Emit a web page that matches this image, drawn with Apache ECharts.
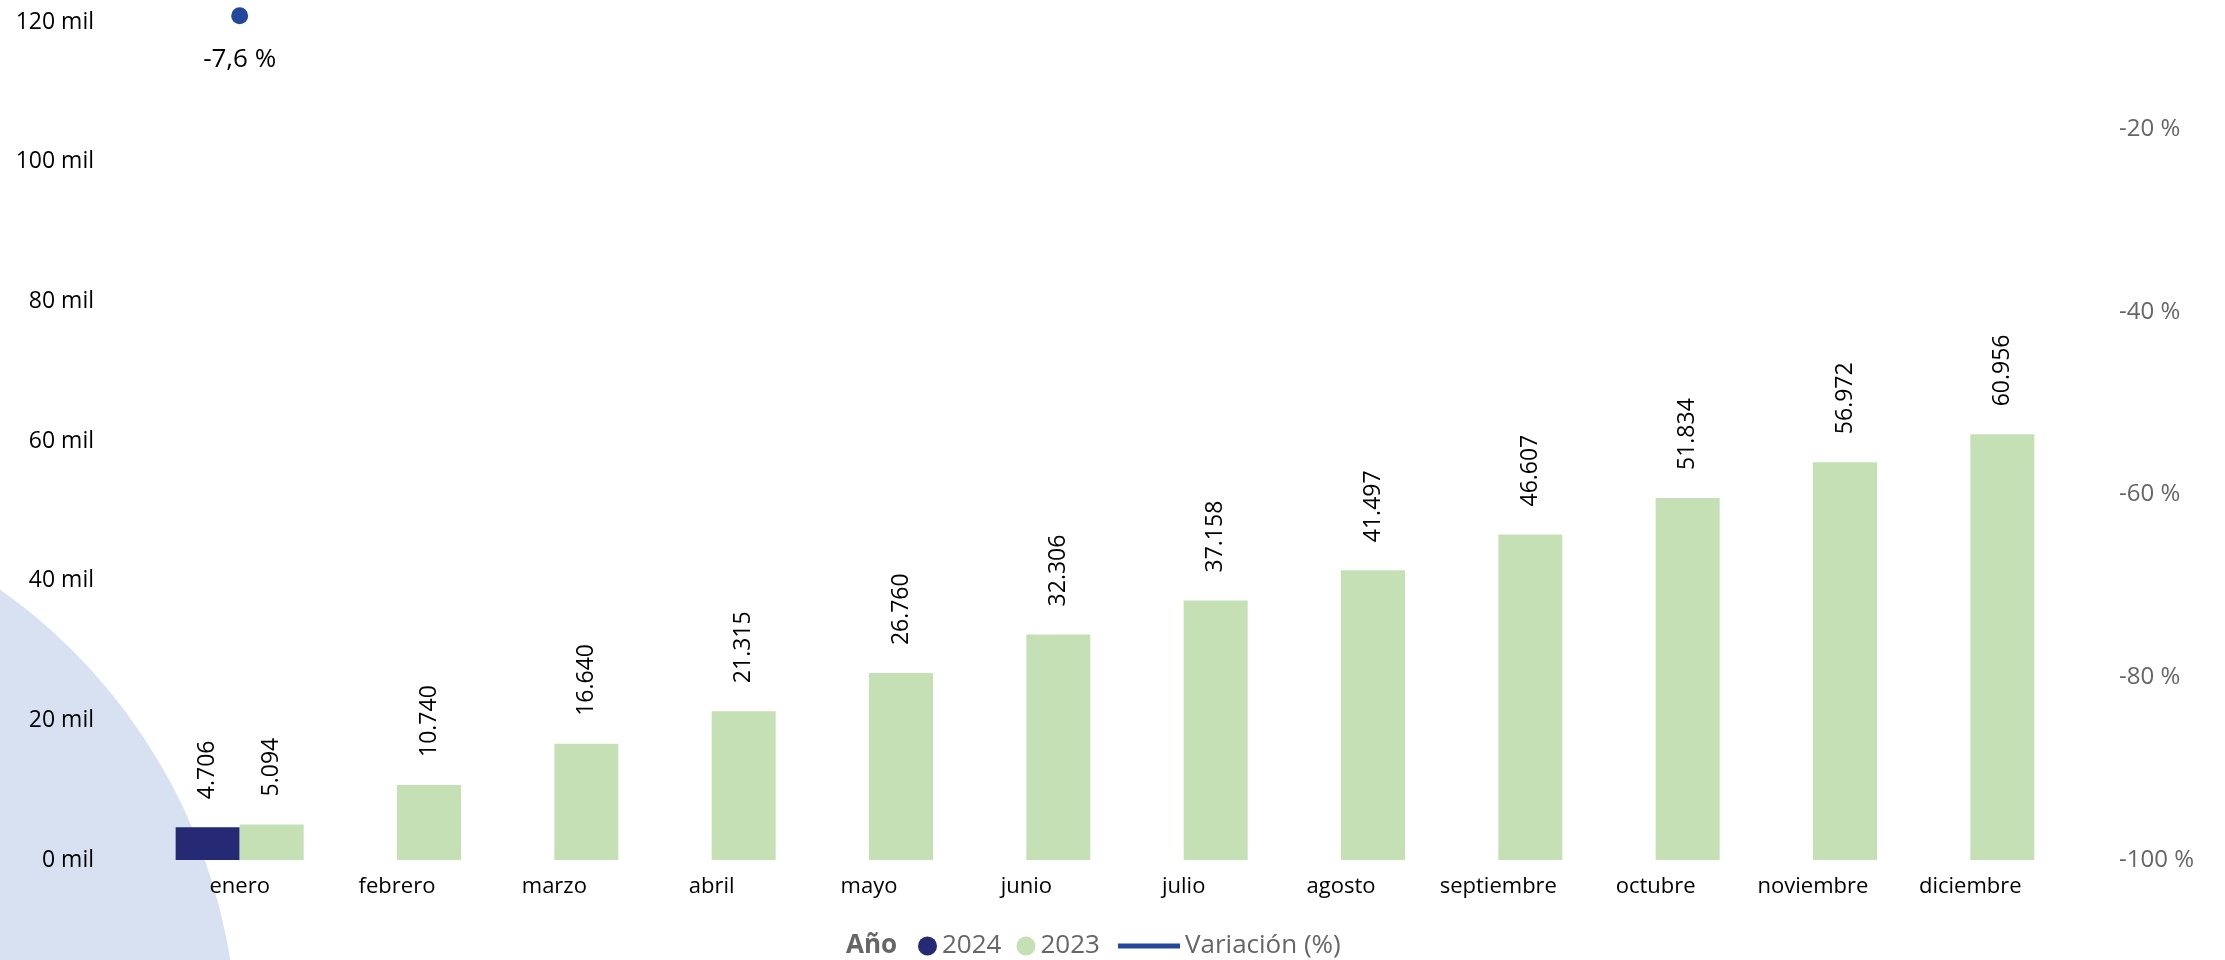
<!DOCTYPE html>
<html>
<head>
<meta charset="utf-8">
<script src="https://cdn.jsdelivr.net/npm/echarts@6/dist/echarts.min.js"></script>
<style>
  html, body { margin: 0; padding: 0; background: #fff; }
  #chart { width: 2225px; height: 960px; }
</style>
</head>
<body>
<div id="chart"></div>
<script>
const months = ['enero', 'febrero', 'marzo', 'abril', 'mayo', 'junio', 'julio', 'agosto', 'septiembre', 'octubre', 'noviembre', 'diciembre'];
const values2024 = [4706, null, null, null, null, null, null, null, null, null, null, null];
const values2023 = [5094, 10740, 16640, 21315, 26760, 32306, 37158, 41497, 46607, 51834, 56972, 60956];
const variacion = [-7.6, null, null, null, null, null, null, null, null, null, null, null];

const FONT = '"Open Sans", "Noto Sans", sans-serif';

const fmtThousands = v => String(v).replace(/\B(?=(\d{3})+(?!\d))/g, '.');

const chart = echarts.init(document.getElementById('chart'));

const barLabel = {
  show: true,
  position: 'top',
  rotate: 90,
  align: 'left',
  verticalAlign: 'middle',
  distance: 28,
  color: '#000',
  fontSize: 23,
  fontFamily: FONT,
  formatter: p => fmtThousands(p.value)
};

chart.setOption({
  animation: false,
  textStyle: { fontFamily: FONT },
  // decorative background shape
  graphic: [
    {
      type: 'circle',
      z: -10,
      silent: true,
      shape: { cx: -323, cy: 1047, r: 560 },
      style: { fill: '#d7e1f1' }
    }
  ],
  title: {
    text: 'Año',
    left: 841,
    top: 928,
    textStyle: { fontSize: 26, fontWeight: 'bold', color: '#666', fontFamily: FONT }
  },
  legend: [
    {
      data: [{ name: '2024', icon: 'circle' }, { name: '2023', icon: 'circle' }],
      left: 913,
      top: 928,
      itemWidth: 19,
      itemHeight: 19,
      itemGap: 15,
      textStyle: { fontSize: 26, color: '#666', fontFamily: FONT }
    },
    {
      data: [{ name: 'Variación (%)', icon: 'rect' }],
      left: 1113,
      top: 928,
      itemWidth: 62,
      itemHeight: 5,
      textStyle: { fontSize: 26, color: '#666', fontFamily: FONT }
    }
  ],
  grid: { left: 161, right: 176, top: 12, bottom: 100 },
  xAxis: {
    type: 'category',
    data: months,
    axisLine: { show: false },
    axisTick: { show: false },
    axisLabel: { color: '#000', fontSize: 22, margin: 16, fontFamily: FONT }
  },
  yAxis: [
    {
      type: 'value',
      min: 0,
      max: 121430,
      interval: 20000,
      splitLine: { show: false },
      axisLine: { show: false },
      axisTick: { show: false },
      axisLabel: {
        showMaxLabel: false,
        color: '#000',
        fontSize: 23,
        margin: 67,
        fontFamily: FONT,
        formatter: v => (v / 1000) + ' mil'
      }
    },
    {
      type: 'value',
      min: -100,
      max: -7.2,
      interval: 20,
      position: 'right',
      splitLine: { show: false },
      axisLine: { show: false },
      axisTick: { show: false },
      axisLabel: {
        showMaxLabel: false,
        color: '#666',
        fontSize: 24,
        margin: 70,
        fontFamily: FONT,
        formatter: v => v + ' %'
      }
    }
  ],
  series: [
    {
      name: '2024',
      type: 'bar',
      data: values2024,
      barWidth: 64,
      barGap: '0%',
      itemStyle: { color: '#262a74' },
      label: barLabel
    },
    {
      name: '2023',
      type: 'bar',
      data: values2023,
      barWidth: 64,
      barGap: '0%',
      itemStyle: { color: '#c5e0b4' },
      label: barLabel
    },
    {
      name: 'Variación (%)',
      type: 'line',
      yAxisIndex: 1,
      data: variacion,
      showSymbol: true,
      symbol: 'circle',
      symbolSize: 17,
      itemStyle: { color: '#23489b' },
      lineStyle: { color: '#23489b', width: 3 },
      label: {
        show: true,
        position: 'bottom',
        distance: 22,
        color: '#000',
        fontSize: 26,
        fontFamily: FONT,
        formatter: p => p.value == null ? '' : String(p.value).replace('.', ',') + ' %'
      }
    }
  ]
});
</script>
</body>
</html>
